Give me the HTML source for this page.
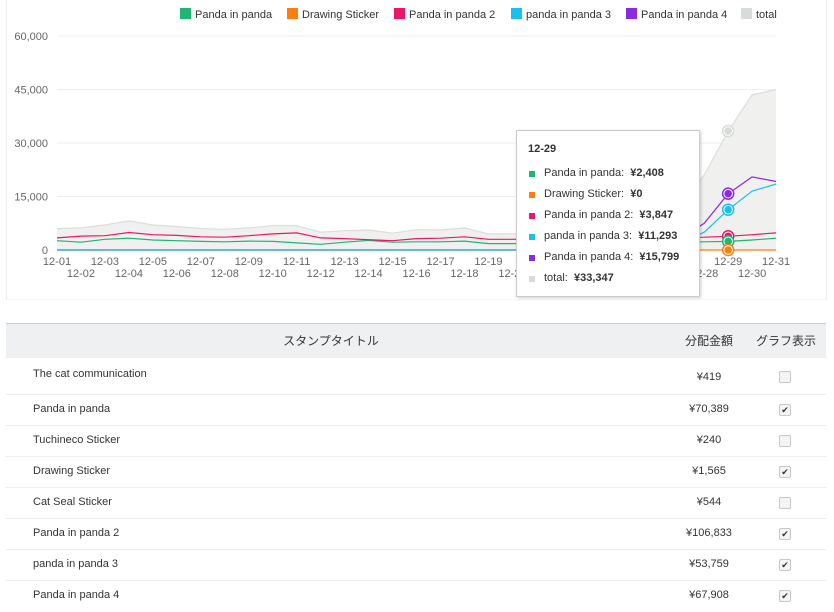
<!DOCTYPE html>
<html><head><meta charset="utf-8"><style>
body{margin:0;width:834px;height:612px;background:#fff;font-family:"Liberation Sans","Noto Sans CJK JP",sans-serif;overflow:hidden;position:relative}
.row{position:absolute;left:6px;width:820px;height:31px;border-bottom:1px solid #eceeef;font-size:11px;color:#333}
.row .t{position:absolute;left:27px;top:0;line-height:31px}
.row .a{position:absolute;left:640px;width:126px;text-align:center;line-height:31px}
.cb{position:absolute;left:773px;top:10px;width:10px;height:10px;border:1px solid #c8c8c8;border-radius:2px;background:#f4f4f4;font-size:9px;line-height:10px;text-align:center;color:#333}
</style></head><body>
<svg id="c" width="834" height="300" style="position:absolute;left:0;top:0" font-family="Liberation Sans, sans-serif"></svg>
<div style="position:absolute;left:6px;top:323px;width:820px;height:34px;background:#eef0f2;border-top:1px solid #ccc;font-size:12px;color:#333">
<span style="position:absolute;left:0;width:650px;text-align:center;line-height:34px">スタンプタイトル</span>
<span style="position:absolute;left:640px;width:126px;text-align:center;line-height:34px">分配金額</span>
<span style="position:absolute;left:740px;width:80px;text-align:center;line-height:34px">グラフ表示</span>
</div>
<div class="row" style="top:358px;height:36px"><span class="t" style="line-height:32px">The cat communication</span><span class="a" style="line-height:38px">¥419</span><span class="cb" style="top:13px"></span></div>
<div class="row" style="top:394px"><span class="t">Panda in panda</span><span class="a">¥70,389</span><span class="cb">✔</span></div>
<div class="row" style="top:425px"><span class="t">Tuchineco Sticker</span><span class="a">¥240</span><span class="cb"></span></div>
<div class="row" style="top:456px"><span class="t">Drawing Sticker</span><span class="a">¥1,565</span><span class="cb">✔</span></div>
<div class="row" style="top:487px"><span class="t">Cat Seal Sticker</span><span class="a">¥544</span><span class="cb"></span></div>
<div class="row" style="top:518px"><span class="t">Panda in panda 2</span><span class="a">¥106,833</span><span class="cb">✔</span></div>
<div class="row" style="top:549px"><span class="t">panda in panda 3</span><span class="a">¥53,759</span><span class="cb">✔</span></div>
<div class="row" style="top:580px;border:none"><span class="t">Panda in panda 4</span><span class="a">¥67,908</span><span class="cb">✔</span></div>
<div style="position:absolute;left:516px;top:130px;width:182px;height:165px;background:#fff;border:1px solid #ccc;box-shadow:1px 1px 3px rgba(0,0,0,.2);font-size:11px;color:#333">
<div style="position:absolute;left:11px;top:12px;font-weight:bold">12-29</div>
<div id="tt"></div>
</div>
<script>
var s=document.getElementById('c'),h='';
h+='<rect x="6.5" y="-1" width="820" height="301" fill="none" stroke="#eee"/>';
function X(i){return 57+i*23.97}function Y(v){return 250-v*214/60000}
[0,15000,30000,45000,60000].forEach(function(v){var y=Y(v);h+='<line x1="57" x2="776" y1="'+y+'" y2="'+y+'" stroke="#eee"/>';h+='<text x="48" y="'+(y+4)+'" text-anchor="end" font-size="11" fill="#666">'+(v?v.toLocaleString('en-US'):'0')+'</text>';});
var tot=[6000,6200,7000,8200,7000,6600,6000,5800,6200,6800,6800,5000,5400,5600,4700,5700,5600,6200,4500,4500,4800,5000,5200,5500,6000,7000,12000,21000,33347,43500,45000];
var p1=[2600,2200,3000,3300,2800,2600,2400,2300,2500,2400,2000,1600,2200,2700,2200,2300,2300,2500,1800,1800,1900,2000,2000,2100,2100,2200,2200,2300,2408,2800,3300];
var p2=[3400,3900,4000,4900,4300,4100,3700,3600,4000,4500,4800,3400,3200,2900,2600,3200,3300,3700,3000,3000,3100,3200,3200,3300,3300,3400,3500,3600,3847,4300,4800];
var p3=[],p4=[],z=[];for(var i=0;i<31;i++){p3.push(0);p4.push(0);z.push(0)}
p3[25]=500;p3[26]=2000;p3[27]=5000;p3[28]=11293;p3[29]=16500;p3[30]=18500;
p4[25]=600;p4[26]=3000;p4[27]=7500;p4[28]=15799;p4[29]=20500;p4[30]=19200;
function pts(a){return a.map(function(v,i){return X(i).toFixed(1)+','+Y(v).toFixed(1)}).join(' ')}
h+='<polygon points="'+X(0)+','+Y(0)+' '+pts(tot)+' '+X(30)+','+Y(0)+'" fill="#f0f1ef" stroke="none"/>';
h+='<polyline points="'+pts(tot)+'" fill="none" stroke="#dcdedb" stroke-width="1.2"/>';
[[z,'#ff7f0e'],[p4,'#8a2be2'],[p3,'#1ac0f0'],[p1,'#1db673'],[p2,'#e9176b']].forEach(function(d){h+='<polyline points="'+pts(d[0])+'" fill="none" stroke="'+d[1]+'" stroke-width="1.2"/>';});
[[33347,'#d8dcd8'],[15799,'#8a2be2'],[11293,'#1ac0f0'],[3847,'#e9176b'],[2408,'#1db673'],[0,'#ff7f0e']].forEach(function(d){h+='<circle cx="'+X(28)+'" cy="'+Y(d[0])+'" r="5.5" fill="#fff" stroke="'+d[1]+'" stroke-width="1.5"/><circle cx="'+X(28)+'" cy="'+Y(d[0])+'" r="3.8" fill="'+d[1]+'"/>';});
for(var i=0;i<31;i++){var d=(i+1<10?'0':'')+(i+1);h+='<text x="'+X(i)+'" y="'+(i%2?277:265)+'" text-anchor="middle" font-size="11" fill="#666">12-'+d+'</text>';}
var lg=[[180,'#1db673','Panda in panda'],[287,'#ff7f0e','Drawing Sticker'],[394,'#e9176b','Panda in panda 2'],[511,'#1ac0f0','panda in panda 3'],[626,'#8a2be2','Panda in panda 4'],[741,'#d8dcd8','total']];
lg.forEach(function(l){h+='<rect x="'+l[0]+'" y="8" width="11" height="11" fill="'+l[1]+'"/><text x="'+(l[0]+15)+'" y="18" font-size="11" fill="#333">'+l[2]+'</text>';});
s.innerHTML=h;
var t='',r=[['#1db673','Panda in panda','¥2,408'],['#ff7f0e','Drawing Sticker','¥0'],['#e9176b','Panda in panda 2','¥3,847'],['#1ac0f0','panda in panda 3','¥11,293'],['#8a2be2','Panda in panda 4','¥15,799'],['#d8dcd8','total','¥33,347']];
r.forEach(function(a,i){t+='<div style="position:absolute;left:12px;top:'+(40+i*21)+'px;width:6px;height:6px;background:'+a[0]+'"></div><div style="position:absolute;left:27px;top:'+(36+i*21)+'px;white-space:nowrap">'+a[1]+':&nbsp; <b>'+a[2]+'</b></div>';});
document.getElementById('tt').innerHTML=t;
</script>
</body></html>
